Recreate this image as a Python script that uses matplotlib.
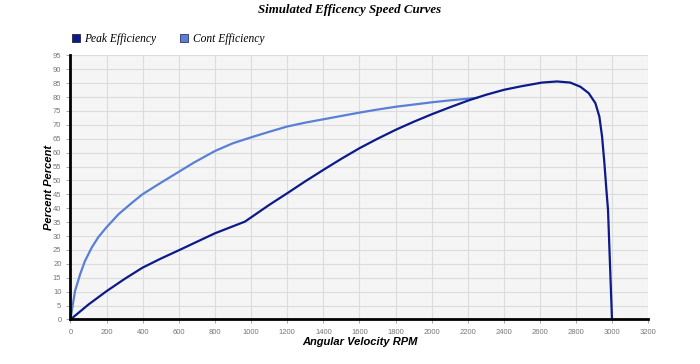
import matplotlib
matplotlib.use("Agg")
import matplotlib.pyplot as plt
from matplotlib.lines import Line2D

# values
peak_rpm = [0, 100, 200, 300, 398, 497, 597, 695, 800, 966, 1100, 1200, 1300, 1400, 1500,
            1600, 1700, 1800, 1900, 2000, 2100, 2200, 2300, 2400, 2490, 2610, 2694, 2767,
            2823, 2869, 2906, 2928, 2943, 2956, 2967, 2976, 2998]
peak_eff = [0, 5.4, 10.2, 14.6, 18.6, 21.8, 24.8, 27.8, 31, 35.2, 41.2, 45.4, 49.7, 53.8, 57.8,
            61.6, 65, 68.2, 71.1, 73.8, 76.3, 78.7, 80.8, 82.6, 83.8, 85.2, 85.6, 85.2,
            83.7, 81.4, 77.8, 73, 65.8, 56.2, 46.6, 39.4, 0]

cont_rpm = [0, 7, 25, 53, 80, 117, 154, 200, 265, 339, 398, 486, 597, 680, 800, 900,
            1000, 1100, 1200, 1300, 1400, 1500, 1600, 1700, 1800, 1900, 2000, 2100,
            2200, 2250]
cont_eff = [0, 3.0, 10.2, 16.2, 21, 25.8, 29.6, 33.2, 37.8, 41.9, 45, 48.6, 53, 56.3,
            60.6, 63.4, 65.5, 67.5, 69.4, 70.8, 72, 73.2, 74.4, 75.5, 76.5, 77.3, 78.1,
            78.8, 79.4, 79.7]

x_ticks = list(range(0, 3201, 200))
y_ticks = list(range(0, 96, 5))

PEAK_COLOR = "#0c1a8a"
CONT_COLOR = "#5a7fd6"

fig = plt.figure(figsize=(7, 3.64), dpi=100)
ax = fig.add_axes([0.1007, 0.1223, 0.8257, 0.7257])
ax.set_facecolor("#f5f5f5")

ax.plot(cont_rpm, cont_eff, color=CONT_COLOR, lw=1.6, solid_joinstyle="round")
ax.plot(peak_rpm, peak_eff, color=PEAK_COLOR, lw=1.6, solid_joinstyle="round")

ax.set_xlim(0, 3200)
ax.set_ylim(0, 95)
ax.set_xticks(x_ticks)
ax.set_yticks(y_ticks)
ax.grid(True, color="#dcdcdc", lw=0.8)
ax.set_axisbelow(True)

for s in ["top", "right"]:
    ax.spines[s].set_visible(False)
for s in ["left", "bottom"]:
    ax.spines[s].set_linewidth(2)
    ax.spines[s].set_color("black")

ax.tick_params(axis="both", labelsize=5.5, labelcolor="#777777", color="#999999",
               length=3, width=0.6)
for lab in ax.get_xticklabels() + ax.get_yticklabels():
    lab.set_family("Liberation Sans")

ax.set_xlabel("Angular Velocity RPM", family="Liberation Sans", weight="bold",
              style="italic", fontsize=8, labelpad=1)
ax.set_ylabel("Percent Percent", family="Liberation Sans", weight="bold",
              style="italic", fontsize=8, labelpad=-1)

fig.text(0.5, 0.99, "Simulated Efficency Speed Curves", ha="center", va="top",
         family="Liberation Serif", weight="bold", style="italic", fontsize=9.3)

# legend squares
handles = [Line2D([], [], marker="s", ls="none", markersize=6, markerfacecolor=PEAK_COLOR,
                  markeredgecolor="#222244", markeredgewidth=0.6),
           Line2D([], [], marker="s", ls="none", markersize=6, markerfacecolor=CONT_COLOR,
                  markeredgecolor="#333366", markeredgewidth=0.6)]
fig.legend(handles, ["Peak Efficiency", "Cont Efficiency"], loc="center left",
           bbox_to_anchor=(0.087, 0.893), ncol=2, frameon=False, handlelength=0.8,
           handletextpad=0.35, columnspacing=2.0,
           prop={"family": "Liberation Serif", "style": "italic", "size": 8.3})

fig.savefig("out.png", dpi=100)
